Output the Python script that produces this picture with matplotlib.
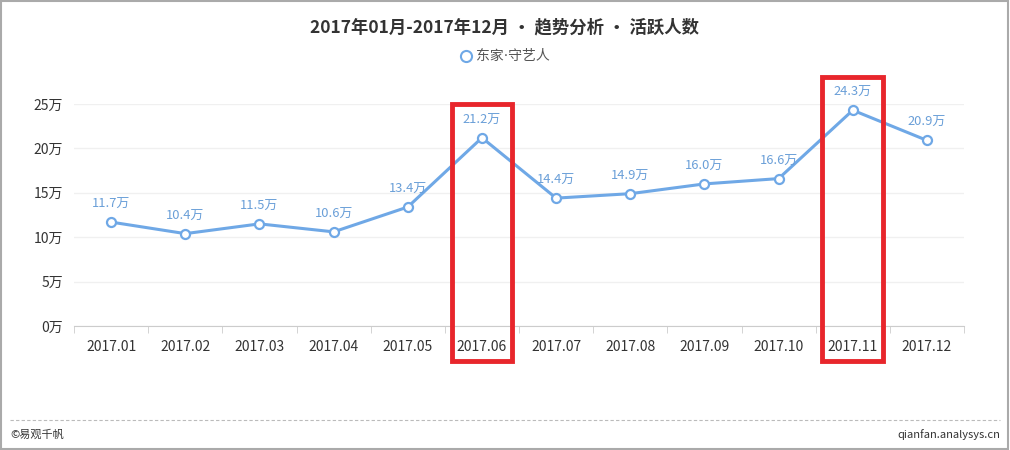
import matplotlib.pyplot as plt
from matplotlib.patches import Rectangle
from matplotlib.lines import Line2D

plt.rcParams['font.family'] = ['Noto Sans CJK SC', 'DejaVu Sans']

# 数据
months = ["2017.01", "2017.02", "2017.03", "2017.04", "2017.05", "2017.06",
          "2017.07", "2017.08", "2017.09", "2017.10", "2017.11", "2017.12"]
values = [11.7, 10.4, 11.5, 10.6, 13.4, 21.2, 14.4, 14.9, 16.0, 16.6, 24.3, 20.9]
highlight = ["2017.06", "2017.11"]
yticks = [0, 5, 10, 15, 20, 25]

line_color = "#6fa8e6"
label_color = "#6a9fd8"

fig = plt.figure(figsize=(10.1, 4.5), dpi=100)
ax = fig.add_axes([0.0733, 0.2756, 0.8812, 0.4933])

x = list(range(len(months)))
ax.plot(x, values, color=line_color, linewidth=2.2, marker="o", markersize=6.5,
        markerfacecolor="white", markeredgecolor=line_color, markeredgewidth=1.6,
        zorder=3)

for i, v in enumerate(values):
    ax.annotate(f"{v:.1f}万", (i, v), xytext=(0, 8), textcoords="offset points",
                ha="center", va="bottom", fontsize=9.3, color=label_color)

ax.set_xlim(-0.5, len(months) - 0.5)
ax.set_ylim(0, 25)
ax.set_yticks(yticks)
ax.set_yticklabels([f"{t}万" for t in yticks], fontsize=10, color="#333333")
ax.set_xticks(x)
ax.set_xticklabels(months, fontsize=10, color="#333333")
ax.tick_params(axis="x", length=0, pad=10)
ax.tick_params(axis="y", length=0, pad=8)
ax.set_xticks([i - 0.5 for i in range(len(months) + 1)], minor=True)
ax.tick_params(axis="x", which="minor", length=5, color="#cccccc")

ax.grid(axis="y", color="#f0f0f0", linewidth=1)
ax.set_axisbelow(True)
for s in ["top", "right", "left"]:
    ax.spines[s].set_visible(False)
ax.spines["bottom"].set_color("#cccccc")

# 红框
for m in highlight:
    i = months.index(m)
    top = values[i] + 3.75
    ax.add_patch(Rectangle((i - 0.41, -3.95), 0.82, top + 3.95, fill=False,
                           edgecolor="#e8262c", linewidth=3.5, clip_on=False,
                           zorder=5))

# 标题和图例
fig.text(0.5, 0.94, "2017年01月-2017年12月 • 趋势分析 • 活跃人数", ha="center",
         va="center", fontsize=12.5, fontweight="bold", color="#333333")
fig.add_artist(Line2D([0.4612], [0.876], marker="o", markersize=8,
                      markerfacecolor="white", markeredgecolor=line_color,
                      markeredgewidth=1.5, transform=fig.transFigure))
fig.text(0.4713, 0.876, "东家·守艺人", ha="left", va="center", fontsize=10,
         color="#555555", family=["DejaVu Sans", "Noto Sans CJK SC"])

# 页脚
fig.add_artist(Line2D([0.01, 0.99], [0.067, 0.067], color="#bbbbbb",
                      linestyle=(0, (3, 2)), linewidth=0.8,
                      transform=fig.transFigure))
fig.text(0.01, 0.035, "©易观千帆", ha="left", va="center", fontsize=8,
         color="#333333")
fig.text(0.99, 0.035, "qianfan.analysys.cn", ha="right", va="center",
         fontsize=8, color="#333333")

# 外框
fig.add_artist(Rectangle((0.001, 0.002), 0.997, 0.996, fill=False,
                         edgecolor="#aaaaaa", linewidth=1.5,
                         transform=fig.transFigure))

plt.savefig("out.png", dpi=100)
